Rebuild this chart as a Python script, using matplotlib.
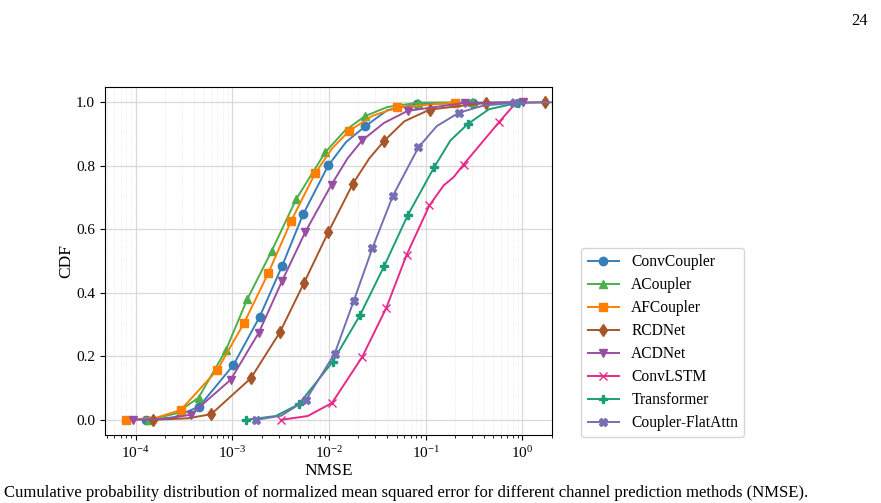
import matplotlib
matplotlib.use("Agg")
import matplotlib.pyplot as plt
import numpy as np

plt.rcParams['font.family'] = ['Liberation Serif', 'DejaVu Serif']
plt.rcParams['mathtext.fontset'] = 'stix'

# values: NMSE (x) and CDF (y); mk marks the points that carry a marker
conv_x = [1.27e-4, 2.5e-4, 4.53e-4, 1.02e-3, 1.91e-3, 3.26e-3, 5.38e-3, 9.8e-3, 0.015, 0.0238, 0.04, 0.081, 0.308, 1.0]
conv_y = [0.0, 0.008, 0.042, 0.172, 0.324, 0.484, 0.647, 0.801, 0.875, 0.925, 0.975, 0.994, 0.998, 1.0]
conv_mk = [1, 0, 1, 1, 1, 1, 1, 1, 0, 1, 0, 1, 1, 0]

acoup_x = [1.37e-4, 2.6e-4, 4.47e-4, 8.57e-4, 1.42e-3, 2.56e-3, 4.55e-3, 9.1e-3, 0.0145, 0.0234, 0.04, 0.084, 0.303]
acoup_y = [0.0, 0.02, 0.070, 0.220, 0.379, 0.533, 0.694, 0.842, 0.91, 0.956, 0.985, 0.999, 1.0]
acoup_mk = [1, 0, 1, 1, 1, 1, 1, 1, 0, 1, 0, 1, 1]

afc_x = [7.87e-5, 1.6e-4, 2.92e-4, 6.96e-4, 1.32e-3, 2.35e-3, 4.03e-3, 7.16e-3, 0.0107, 0.016, 0.028, 0.051, 0.202]
afc_y = [0.0, 0.006, 0.031, 0.157, 0.305, 0.462, 0.625, 0.776, 0.854, 0.909, 0.957, 0.984, 0.999]
afc_mk = [1, 0, 1, 1, 1, 1, 1, 1, 0, 1, 0, 1, 1]

rcd_x = [1.51e-4, 3.5e-4, 6.03e-4, 1.55e-3, 3.1e-3, 5.5e-3, 9.77e-3, 0.0176, 0.026, 0.0373, 0.06, 0.11, 0.42, 1.7]
rcd_y = [0.0, 0.005, 0.018, 0.131, 0.276, 0.431, 0.590, 0.743, 0.823, 0.879, 0.94, 0.977, 0.998, 1.0]
rcd_mk = [1, 0, 1, 1, 1, 1, 1, 1, 0, 1, 0, 1, 1, 1]

acd_x = [9.4e-5, 2e-4, 3.69e-4, 9.57e-4, 1.87e-3, 3.26e-3, 5.64e-3, 0.0106, 0.0155, 0.022, 0.037, 0.065, 0.254, 1.02]
acd_y = [0.0, 0.003, 0.016, 0.126, 0.274, 0.437, 0.590, 0.741, 0.823, 0.880, 0.935, 0.973, 0.998, 1.0]
acd_mk = [1, 0, 1, 1, 1, 1, 1, 1, 0, 1, 0, 1, 1, 1]

lstm_x = [3.18e-3, 6e-3, 0.0107, 0.022, 0.039, 0.0633, 0.109, 0.153, 0.194, 0.246, 0.571, 0.867]
lstm_y = [0.0, 0.012, 0.053, 0.198, 0.352, 0.519, 0.675, 0.738, 0.764, 0.804, 0.937, 1.0]
lstm_mk = [1, 0, 1, 1, 1, 1, 1, 0, 0, 1, 1, 1]

trans_x = [1.37e-3, 2.8e-3, 4.85e-3, 0.0109, 0.021, 0.0374, 0.065, 0.122, 0.18, 0.271, 0.45, 0.89]
trans_y = [0.0, 0.012, 0.049, 0.183, 0.331, 0.486, 0.644, 0.795, 0.88, 0.931, 0.978, 0.998]
trans_mk = [1, 0, 1, 1, 1, 1, 1, 1, 0, 1, 0, 1]

flat_x = [1.75e-3, 3.2e-3, 5.73e-3, 0.0114, 0.0179, 0.0281, 0.0456, 0.084, 0.13, 0.22, 0.4, 0.826, 2.05]
flat_y = [0.0, 0.013, 0.062, 0.208, 0.373, 0.541, 0.705, 0.858, 0.925, 0.967, 0.99, 0.998, 1.0]
flat_mk = [1, 0, 1, 1, 1, 1, 1, 1, 0, 1, 0, 1, 0]

names = ['ConvCoupler', 'ACoupler', 'AFCoupler', 'RCDNet', 'ACDNet', 'ConvLSTM', 'Transformer', 'Coupler-FlatAttn']
series = [(conv_x, conv_y, conv_mk), (acoup_x, acoup_y, acoup_mk), (afc_x, afc_y, afc_mk),
          (rcd_x, rcd_y, rcd_mk), (acd_x, acd_y, acd_mk), (lstm_x, lstm_y, lstm_mk),
          (trans_x, trans_y, trans_mk), (flat_x, flat_y, flat_mk)]
colors = ['#377eb8', '#4daf4a', '#ff7f00', '#a65628', '#984ea3', '#e7298a', '#1b9e77', '#7570b3']
markers = ['o', '^', 's', 'd', 'v', 'x', 'P', 'X']

fig = plt.figure(figsize=(8.81, 5.03), dpi=100)
ax = fig.add_axes([0.119, 0.135, 0.508, 0.692])

for (x, y, mk), name, c, m in zip(series, names, colors, markers):
    ax.plot(x, y, color=c, marker=m, markersize=6, linewidth=1.4,
            markevery=[bool(v) for v in mk], label=name)

ax.set_xscale('log')
ax.set_xlim(10 ** -4.32, 10 ** 0.31)
ax.set_ylim(-0.048, 1.048)
ax.set_yticks(np.arange(0, 1.01, 0.2))
ax.grid(True, which='major', color='#d9d9d9', linewidth=0.9)
ax.grid(True, which='minor', color='#e6e6e6', linewidth=0.6, linestyle=':')
ax.set_axisbelow(True)
ax.tick_params(labelsize=11)
ax.set_xlabel('NMSE', fontsize=12.5, labelpad=2)
ax.set_ylabel('CDF', fontsize=12.5, labelpad=1)

ax.legend(loc='lower left', bbox_to_anchor=(1.065, -0.006), borderaxespad=0, fontsize=11.2,
          frameon=True, edgecolor='#cccccc', labelspacing=0.45)

fig.text(0.985, 0.975, '24', fontsize=12, ha='right', va='top')
fig.text(0.004, 0.004, 'Cumulative probability distribution of normalized mean squared error for different channel '
         'prediction methods (NMSE).', fontsize=12, ha='left', va='bottom')

fig.savefig('out.png', dpi=100)
